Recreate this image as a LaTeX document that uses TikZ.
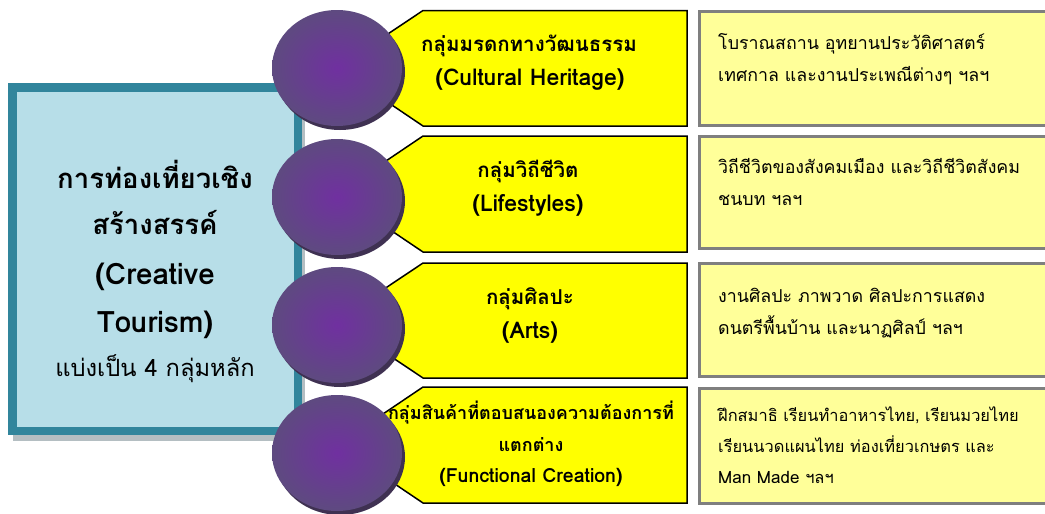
\documentclass[tikz,border=0pt]{standalone}
\usepackage{fontspec}
\setmainfont{Loma}[Script=Thai]
\usetikzlibrary{shapes.geometric}
\definecolor{tealb}{HTML}{31859C}
\definecolor{lblue}{HTML}{B7DEE8}
\definecolor{shadowg}{HTML}{B4BEC2}
\definecolor{ylw}{HTML}{FFFF00}
\definecolor{lylw}{HTML}{FFFF99}
\definecolor{grayb}{HTML}{7F7F7F}
\definecolor{purpc}{HTML}{7030A0}
\definecolor{purpe}{HTML}{5E4A80}
\definecolor{purpr}{HTML}{3F3152}
\tikzset{
  mainbox/.style={draw=tealb, line width=8.5pt, fill=lblue, minimum width=285.5pt, minimum height=343.5pt, inner sep=0pt},
  maintxt/.style={anchor=base, inner sep=0pt, font=\fontsize{27.5}{30}\selectfont\bfseries},
  mainlat/.style={anchor=base, inner sep=0pt, font=\fontsize{29.5}{32}\selectfont\bfseries},
  mainsub/.style={anchor=base, inner sep=0pt, font=\fontsize{23.7}{26}\selectfont},
  pent/.style={draw=black, line width=1.5pt, fill=ylw, line join=miter},
  pentxt/.style={anchor=base, inner sep=0pt, font=\fontsize{20.5}{22}\selectfont\bfseries},
  pentlat/.style={anchor=base, inner sep=0pt, font=\fontsize{23}{25}\selectfont\bfseries},
  pentxts/.style={anchor=base, inner sep=0pt, font=\fontsize{18}{20}\selectfont\bfseries},
  pentlats/.style={anchor=base, inner sep=0pt, font=\fontsize{19.5}{22}\selectfont\bfseries},
  descbox/.style={draw=grayb, line width=3pt, fill=lylw, minimum width=360.5pt, inner sep=0pt},
  desctxt/.style={anchor=base west, inner sep=0pt, font=\fontsize{17.8}{21}\selectfont},
  desctxts/.style={anchor=base west, inner sep=0pt, font=\fontsize{16.4}{20}\selectfont},
  desclat/.style={anchor=base west, inner sep=0pt, font=\fontsize{17}{21}\selectfont},
  disc/.style={ellipse, minimum width=130pt, minimum height=116pt, inner sep=0pt, draw=none, inner color=purpc, outer color=purpe},
  discrim/.style={ellipse, minimum width=130pt, minimum height=116pt, inner sep=0pt, fill=purpr}
}
\begin{document}
\begin{tikzpicture}[x=1pt,y=-1pt]
\useasboundingbox (0,0) rectangle (1045,514);
\clip (0,0) rectangle (1045,514);
\fill[white] (0,0) rectangle (1045,514);

% main box
\fill[shadowg] (13,90) rectangle (305,441);
\node[mainbox] (main) at (155,259) {};
\node[maintxt] (m1) at (155,188) {การท่องเที่ยวเชิง};
\node[maintxt] (m2) at (155,234) {สร้างสรรค์};
\node[mainlat] (m3) at (155,284) {(Creative};
\node[mainlat] (m4) at (155,332) {Tourism)};
\node[mainsub] (m5) at (155,376) {แบ่งเป็น 4 กลุ่มหลัก};

% description boxes
\node[descbox, minimum height=114pt] (d1) at (879.75,68.5) {};
\node[descbox, minimum height=112pt] (d2) at (879.75,192.5) {};
\node[descbox, minimum height=113pt] (d3) at (879.75,320) {};
\node[descbox, minimum height=115pt] (d4) at (879.75,446) {};

\node[desctxt] (d1a) at (718,49) {โบราณสถาน อุทยานประวัติศาสตร์};
\node[desctxt] (d1b) at (718,81) {เทศกาล และงานประเพณีต่างๆ ฯลฯ};
\node[desctxt] (d2a) at (718,173) {วิถีชีวิตของสังคมเมือง และวิถีชีวิตสังคม};
\node[desctxt] (d2b) at (718,205) {ชนบท ฯลฯ};
\node[desctxt] (d3a) at (718,302) {งานศิลปะ ภาพวาด ศิลปะการแสดง};
\node[desctxt] (d3b) at (718,334) {ดนตรีพื้นบ้าน และนาฏศิลป์ ฯลฯ};
\node[desctxts] (d4a) at (718,421) {ฝึกสมาธิ เรียนทำอาหารไทย, เรียนมวยไทย};
\node[desctxts] (d4b) at (718,452) {เรียนนวดแผนไทย ท่องเที่ยวเกษตร และ};
\node[desclat] (d4c) at (718,483) {Man Made {\fontsize{16.4}{20}\selectfont ฯลฯ}};

% yellow pentagons
\draw[pent] (687,10.5) -- (423,10.5) -- (337,68) -- (423,126) -- (687,126) -- cycle;
\draw[pent] (687,136) -- (423,136) -- (337,194) -- (423,252) -- (687,252) -- cycle;
\draw[pent] (687,263) -- (423,263) -- (337,320.5) -- (423,378) -- (687,378) -- cycle;
\draw[pent] (687,387) -- (423,387) -- (337,445) -- (423,503) -- (687,503) -- cycle;

\node[pentxt] (p1a) at (529,51) {กลุ่มมรดกทางวัฒนธรรม};
\node[pentlat] (p1b) at (530,85) {(Cultural Heritage)};
\node[pentxt] (p2a) at (528,177) {กลุ่มวิถีชีวิต};
\node[pentlat] (p2b) at (528,211) {(Lifestyles)};
\node[pentxt] (p3a) at (530,304) {กลุ่มศิลปะ};
\node[pentlat] (p3b) at (530,338) {(Arts)};
\node[pentxts] (p4a) at (531,419) {กลุ่มสินค้าที่ตอบสนองความต้องการที่};
\node[pentxts] (p4b) at (531,451) {แตกต่าง};
\node[pentlats] (p4c) at (531,482) {(Functional Creation)};

% discs
\foreach \n/\cy in {1/68,2/197,3/325,4/453}{
  \node[discrim] (r\n) at (340,\cy+4) {};
  \node[disc] (c\n) at (337,\cy) {};
}
\end{tikzpicture}
\end{document}
